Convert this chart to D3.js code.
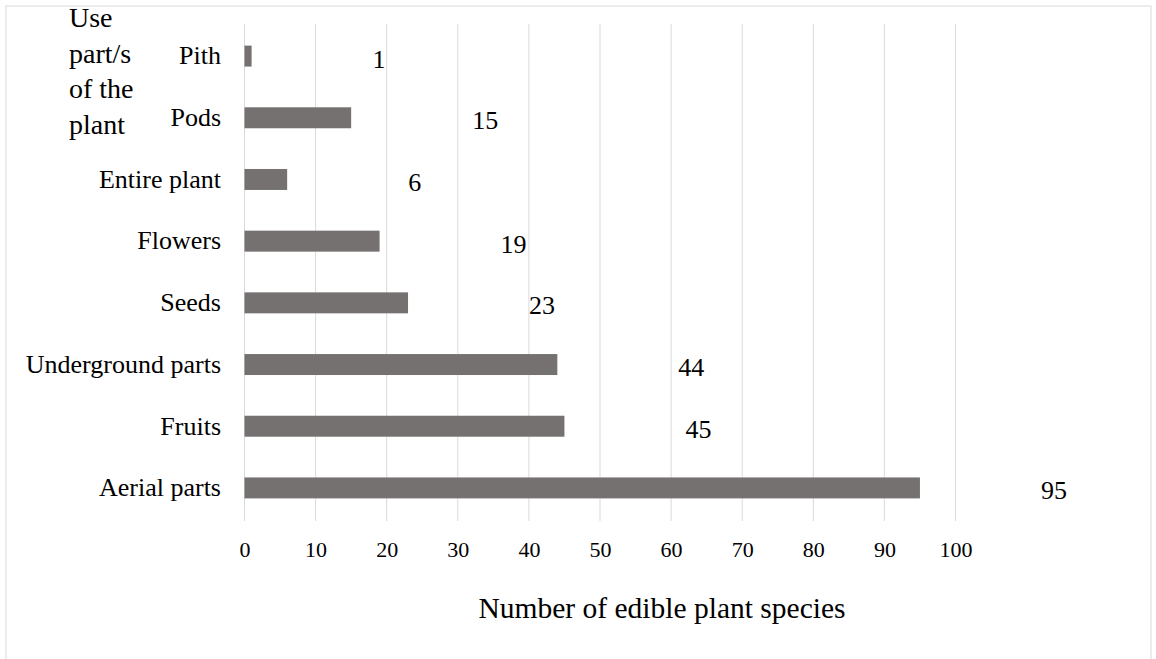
<!DOCTYPE html>
<html><head><meta charset="utf-8">
<script src="https://cdn.jsdelivr.net/npm/d3@7"></script>
<style>
body{margin:0;background:#fff}
svg{display:block}
svg text{font-family:"Liberation Serif","Times New Roman",Tinos,Times !important}
</style>
</head><body>
<svg id="c" width="1156" height="659" font-family="Liberation Serif, Times New Roman, Times"></svg>
<script>
const categories = ["Pith","Pods","Entire plant","Flowers","Seeds","Underground parts","Fruits","Aerial parts"];
const values = [1,15,6,19,23,44,45,95];
const tickValues = [0,10,20,30,40,50,60,70,80,90,100];
const yTitleLines = ["Use","part/s","of the","plant"];
const xTitle = "Number of edible plant species";

const svg = d3.select("#c");
svg.append("rect").attr("x",6).attr("y",6).attr("width",1145).attr("height",700)
  .attr("fill","none").attr("stroke","#d9d9d9").attr("stroke-width",1);

const x = d3.scaleLinear().domain([0,100]).range([244.5,955.5]);
const y = d3.scaleBand().domain(categories).range([24,520]).paddingInner(0.66).paddingOuter(0.35);

svg.append("g").selectAll("line").data(tickValues).join("line")
  .attr("x1",d=>x(d)).attr("x2",d=>x(d)).attr("y1",24).attr("y2",521)
  .attr("stroke","#d9d9d9").attr("stroke-width",1);

svg.append("g").selectAll("rect").data(values).join("rect")
  .attr("x",x(0)).attr("y",(d,i)=>y(categories[i]))
  .attr("width",d=>x(d)-x(0)).attr("height",y.bandwidth())
  .attr("fill","#767171");

const xAxis = d3.axisBottom(x).tickValues(tickValues).tickSize(0).tickPadding(0);
const gx = svg.append("g").attr("transform","translate(0,541)").call(xAxis)
  .attr("font-family",null).attr("font-size",22);
gx.select(".domain").remove();
gx.selectAll("text").attr("dy","0.71em").attr("fill","#000");

const yAxis = d3.axisLeft(y).tickSize(0).tickPadding(0);
const gy = svg.append("g").attr("transform","translate(221,0)").call(yAxis)
  .attr("font-family",null).attr("font-size",26);
gy.select(".domain").remove();
gy.selectAll("text").attr("fill","#000");

svg.append("g").attr("font-size",26).selectAll("text").data(values).join("text")
  .attr("x",d=>x(d)+121).attr("y",(d,i)=>y(categories[i])+y.bandwidth()/2)
  .attr("dy","0.44em").text(d=>d);

svg.append("text").attr("x",662).attr("y",618).attr("text-anchor","middle")
  .attr("font-size",29.5).text(xTitle);

svg.append("g").attr("font-size",28).selectAll("text").data(yTitleLines).join("text")
  .attr("x",69).attr("y",(d,i)=>27+i*35.5).text(d=>d);
</script>
</body></html>
